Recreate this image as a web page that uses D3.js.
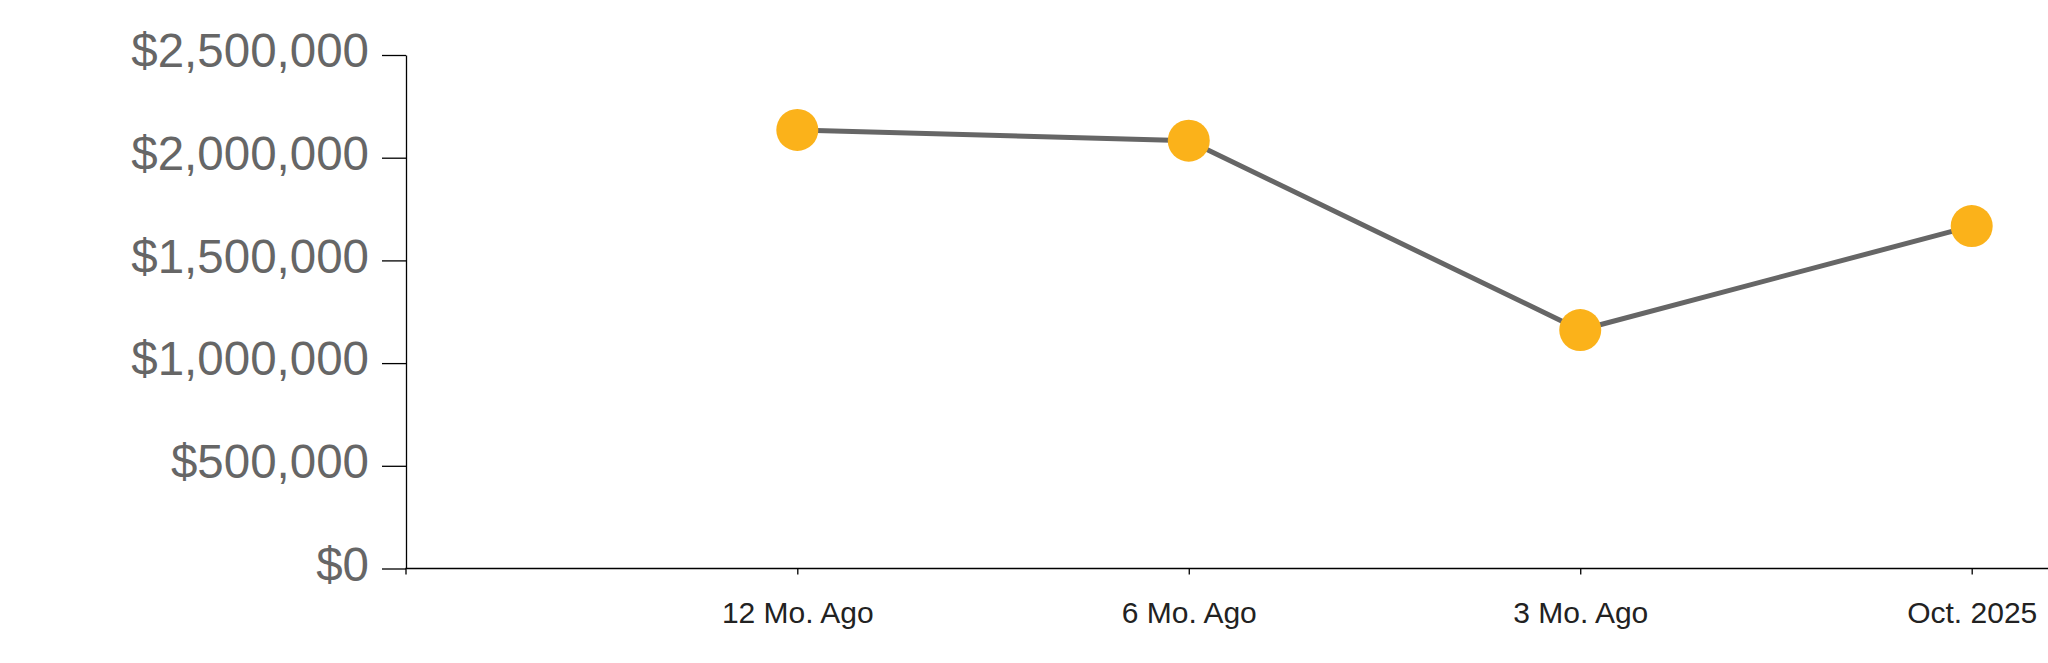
<!DOCTYPE html>
<html>
<head>
<meta charset="utf-8">
<script src="https://cdn.jsdelivr.net/npm/d3@7/dist/d3.min.js"></script>
<style>
  html, body { margin: 0; padding: 0; background: #fff; }
  svg { display: block; }
</style>
</head>
<body>
<svg id="chart" width="2048" height="663"></svg>
<script>
const categories = ["12 Mo. Ago", "6 Mo. Ago", "3 Mo. Ago", "Oct. 2025"];
const values = [2135000, 2083000, 1161000, 1667000];
const yTicks = [0, 500000, 1000000, 1500000, 2000000, 2500000];

const svg = d3.select("#chart");
const W = 2048, H = 663;
const axisX = 406, y0 = 568.5, yTop = 55;

const x = d3.scalePoint().domain(categories).range([797.3, 1971.7]);
const y = d3.scaleLinear().domain([0, 2500000]).range([y0, yTop]);

const fmt = v => "$" + d3.format(",")(v);

// Y axis
const yAxis = svg.append("g")
  .attr("transform", `translate(${axisX},0)`)
  .call(d3.axisLeft(y).tickValues(yTicks).tickFormat(fmt).tickSize(24).tickSizeOuter(0).tickPadding(13));
yAxis.select(".domain").attr("stroke", "#000").attr("stroke-width", 1.3);
yAxis.selectAll(".tick line").attr("stroke", "#000").attr("stroke-width", 1.3);
yAxis.selectAll(".tick text")
  .attr("fill", "#666")
  .attr("font-family", "'Liberation Sans', Arial, sans-serif")
  .attr("font-size", 47.5)
  .attr("dy", "0.25em");

// X axis: domain from the y axis to the right edge
const xAxis = svg.append("g")
  .attr("transform", `translate(0,${y0})`)
  .call(d3.axisBottom(x).tickSize(6).tickSizeOuter(0).tickPadding(0));
xAxis.select(".domain").attr("d", `M${axisX},6V0H${W}`).attr("stroke", "#000").attr("stroke-width", 1.3);
xAxis.selectAll(".tick line").attr("stroke", "#000").attr("stroke-width", 1.3);
xAxis.selectAll(".tick text")
  .attr("fill", "#222")
  .attr("font-family", "'Liberation Sans', Arial, sans-serif")
  .attr("font-size", 30)
  .attr("y", 54)
  .attr("dy", 0);

// Line
const line = d3.line().x((d, i) => x(categories[i])).y(d => y(d));
svg.append("path")
  .datum(values)
  .attr("d", line)
  .attr("fill", "none")
  .attr("stroke", "#666")
  .attr("stroke-width", 5);

// Points
svg.append("g").selectAll("circle")
  .data(values)
  .join("circle")
  .attr("cx", (d, i) => x(categories[i]))
  .attr("cy", d => y(d))
  .attr("r", 21)
  .attr("fill", "#fbb21a");
</script>
</body>
</html>
